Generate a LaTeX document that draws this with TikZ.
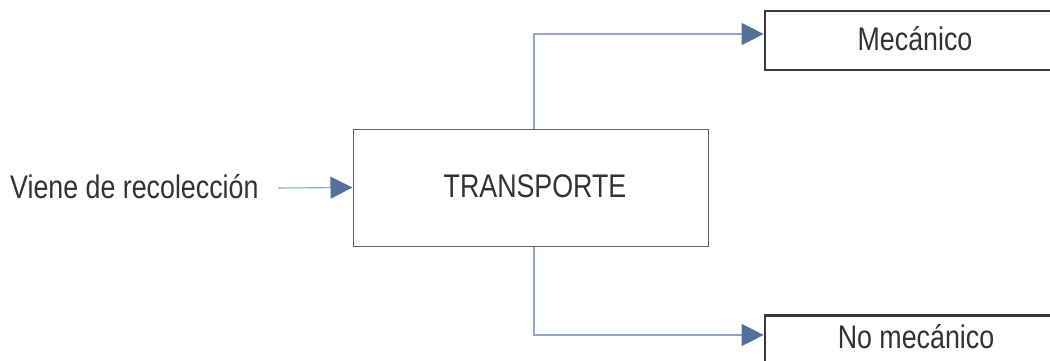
\documentclass[tikz,border=0pt]{standalone}
\usepackage{fontspec}
\setmainfont{Liberation Sans}
\usetikzlibrary{arrows.meta,calc}
\definecolor{linecol}{HTML}{94A6C4}
\definecolor{tipcol}{HTML}{56709E}
\definecolor{txtcol}{HTML}{333333}
\definecolor{boxcol}{HTML}{3A3A3A}
\newcommand{\tall}[1]{\scalebox{1}[1.22]{#1}}
\begin{document}
\begin{tikzpicture}[x=1pt,y=-1pt,
  lbl/.style={font=\fontsize{26.8}{30}\selectfont, text=txtcol, inner sep=0pt, anchor=base},
  mainbox/.style={draw=boxcol!80, line width=1pt, minimum width=355pt, minimum height=117pt, inner sep=0pt},
  outbox/.style={draw=boxcol, line width=2.7pt, minimum width=320pt, minimum height=59pt, inner sep=0pt},
  conn/.style={draw=linecol, line width=1.1pt, -{Triangle[length=22pt,width=22pt,color=tipcol]}}]
\useasboundingbox (0,0) rectangle (1050,360);
\node[mainbox] (tr) at (530.5,187.5) {};
\node[lbl] (trtext) at (535,197) {\tall{TRANSPORTE}};
\node[outbox] (mec) at (925,40.5) {};
\node[lbl] (mectext) at (915,50) {\tall{Mecánico}};
\node[outbox] (nm) at (925,345) {};
\node[lbl] (nmtext) at (916,348) {\tall{No mecánico}};
\node[lbl, anchor=base west] (in) at (10,198) {\tall{Viene de recolección}};
\coordinate (instart) at (278,188);
\draw[conn] (instart) -- (tr.west);
\draw[conn] ([xshift=3.5pt]tr.north) |- ([yshift=6.5pt]mec.west);
\draw[conn] ([xshift=3.5pt]tr.south) |- ([yshift=10pt]nm.west);
\end{tikzpicture}
\end{document}
